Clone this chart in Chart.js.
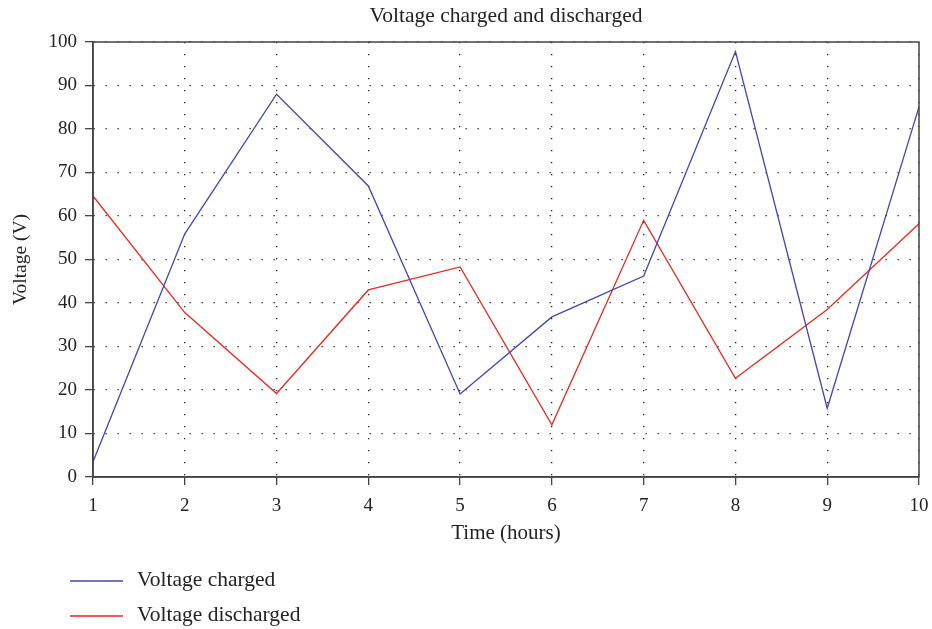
<!DOCTYPE html>
<html>
<head>
<meta charset="utf-8">
<script src="https://cdn.jsdelivr.net/npm/chart.js@4"></script>
<style>
  html, body { margin: 0; padding: 0; background: #fff; }
  #wrap { width: 932px; height: 629px; }
</style>
</head>
<body>
<div id="wrap"><canvas id="myChart" width="932" height="629"></canvas></div>
<script>
'use strict';

var hours = ['1', '2', '3', '4', '5', '6', '7', '8', '9', '10'];
var voltageCharged = [3.5, 55.9, 88.0, 66.9, 19.1, 36.8, 46.2, 97.8, 15.8, 85.1];
var voltageDischarged = [64.6, 37.8, 19.2, 43.0, 48.3, 12.0, 59.0, 22.7, 38.5, 58.2];
var chartTitle = 'Voltage charged and discharged';

var serif = "'Liberation Serif', 'Times New Roman', serif";
var axisColor = '#444';
var dotColor = '#222';
var textColor = '#222';

// title over the plot, box round the plot area, legend down below
var frameAndLegend = {
  id: 'frameAndLegend',
  afterDraw: function(chart) {
    var ctx = chart.ctx;
    var a = chart.chartArea;
    ctx.save();
    ctx.strokeStyle = axisColor;
    ctx.lineWidth = 1.5;
    ctx.strokeRect(a.left, a.top, a.right - a.left, a.bottom - a.top);

    ctx.fillStyle = textColor;
    ctx.font = '21.5px ' + serif;
    ctx.textAlign = 'center';
    ctx.textBaseline = 'middle';
    ctx.fillText(chartTitle, (a.left + a.right) / 2, 16);

    ctx.textAlign = 'left';
    chart.data.datasets.forEach(function(ds, i) {
      var y = 581 + i * 35;
      ctx.strokeStyle = ds.borderColor;
      ctx.lineWidth = 1.3;
      ctx.beginPath();
      ctx.moveTo(70, y);
      ctx.lineTo(123, y);
      ctx.stroke();
      ctx.fillStyle = textColor;
      ctx.fillText(ds.label, 137, y - 1);
    });
    ctx.restore();
  }
};

var ctx = document.getElementById('myChart');

var data = {
  labels: hours,
  datasets: [{
    label: 'Voltage charged',
    data: voltageCharged,
    borderColor: '#4444b2',
    backgroundColor: '#4444b2',
    borderWidth: 1.3,
    pointRadius: 0,
    tension: 0,
    fill: false
  }, {
    label: 'Voltage discharged',
    data: voltageDischarged,
    borderColor: '#e62a1e',
    backgroundColor: '#e62a1e',
    borderWidth: 1.3,
    pointRadius: 0,
    tension: 0,
    fill: false
  }]
};

var gridOpts = {
  color: dotColor,
  lineWidth: 1.3,
  tickLength: 8,
  tickColor: axisColor,
  tickWidth: 1.3,
  tickBorderDash: []
};

var myChart = new Chart(ctx, {
  type: 'line',
  data: data,
  plugins: [frameAndLegend],
  options: {
    responsive: false,
    animation: false,
    layout: { padding: { left: 0, right: 13, top: 42, bottom: 82 } },
    plugins: {
      legend: { display: false },
      tooltip: { enabled: false },
      title: { display: false }
    },
    scales: {
      x: {
        type: 'category',
        offset: false,
        afterFit: function(scale) {
          scale.height = 70;
          scale.paddingLeft = 0;
          scale.paddingRight = 0;
        },
        grid: Object.assign({ offset: false }, gridOpts),
        border: { color: axisColor, width: 1.5, dash: [1.3, 10.7] },
        ticks: {
          color: textColor,
          padding: 10,
          maxRotation: 0,
          font: { family: serif, size: 19 }
        },
        title: {
          display: true,
          text: 'Time (hours)',
          color: textColor,
          font: { family: serif, size: 21 },
          padding: { top: 0, bottom: 1 }
        }
      },
      y: {
        min: 0,
        max: 100,
        afterFit: function(scale) { scale.width = 93; },
        grid: gridOpts,
        border: { color: axisColor, width: 1.5, dash: [1.3, 10.7] },
        ticks: {
          stepSize: 10,
          color: textColor,
          padding: 8,
          font: { family: serif, size: 19 }
        },
        title: {
          display: true,
          text: 'Voltage (V)',
          color: textColor,
          font: { family: serif, size: 19.5 },
          padding: { top: 9, bottom: 0 }
        }
      }
    }
  }
});
</script>
</body>
</html>
